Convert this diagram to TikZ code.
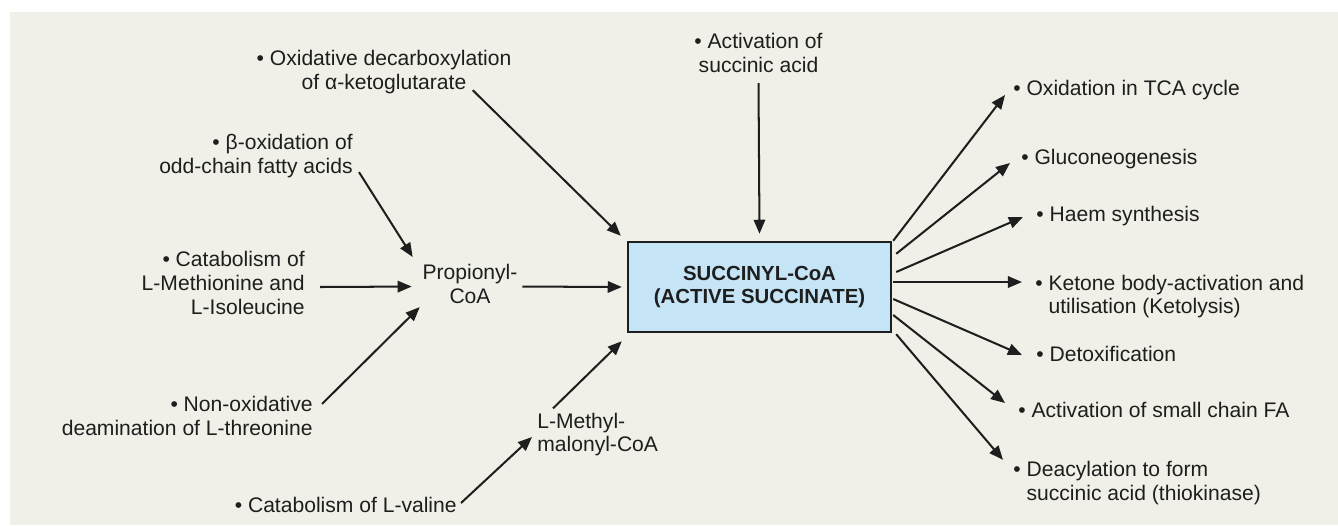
\documentclass[tikz,border=0pt]{standalone}
\usepackage{fontspec}
\setmainfont{Liberation Sans}
\usepackage{tikz}
\usetikzlibrary{arrows.meta, positioning, calc}
\definecolor{paper}{RGB}{240,240,232}
\definecolor{hubfill}{RGB}{197,229,247}
\definecolor{ink}{RGB}{30,30,30}

\begin{document}
\begin{tikzpicture}[x=0.02cm, y=-0.02cm,
    txt/.style={inner sep=0pt, text=ink, font=\fontsize{12}{13.6}\selectfont},
    hub/.style={rectangle, draw=ink, line width=1.4pt, fill=hubfill, minimum width=5.26cm, minimum height=1.8cm, align=center, text=ink, font=\fontsize{11.6}{12.6}\selectfont\bfseries},
    link/.style={-{Triangle[length=8pt, width=6.5pt]}, line width=1.15pt, draw=ink}
]
    % Frame
    \useasboundingbox (0,0) rectangle (1338,525);
    \fill[white] (0,0) rectangle (1338,525);
    \fill[paper] (10,12) rectangle (1338,525);

    % Central box
    \node[hub] (succ) at (759.5,287) {SUCCINYL-CoA\\(ACTIVE SUCCINATE)};

    % Sources
    \node[txt, align=center] (akg) at (384,72) {• Oxidative decarboxylation\\of α-ketoglutarate};
    \node[txt, align=right, anchor=east] (betaox) at (353,156) {• β-oxidation of\\odd-chain fatty acids};
    \node[txt, align=right, anchor=east] (metile) at (305,283) {• Catabolism of\\L-Methionine and\\L-Isoleucine};
    \node[txt, align=right, anchor=east] (thr) at (313,416) {• Non-oxidative\\deamination of L-threonine};
    \node[txt, anchor=east] (val) at (457,505) {• Catabolism of L-valine};
    \node[txt, align=center] (succacid) at (758.5,53) {• Activation of\\succinic acid};

    % Intermediates
    \node[txt, align=center, anchor=north] (prop) at (470,264) {Propionyl-\\CoA};
    \node[txt, align=left, anchor=west] (mmcoa) at (537,434.5) {L-Methyl-\\malonyl-CoA};

    % Fates
    \node[txt, anchor=west] (tca) at (1013,90) {• Oxidation in TCA cycle};
    \node[txt, anchor=west] (gluco) at (1021,159) {• Gluconeogenesis};
    \node[txt, anchor=west] (haem) at (1036,216) {• Haem synthesis};
    \node[txt, align=left, anchor=west] (keto) at (1035,296.5) {• Ketone body-activation and\\\hphantom{• }utilisation (Ketolysis)};
    \node[txt, anchor=west] (detox) at (1036,354) {• Detoxification};
    \node[txt, anchor=west] (smallfa) at (1018,410) {• Activation of small chain FA};
    \node[txt, align=left, anchor=west] (deacyl) at (1013,483) {• Deacylation to form\\\hphantom{• }succinic acid (thiokinase)};

    % Inputs
    \draw[link] ($(akg.south east)+(-39,-4)$) -- ($(succ.north west)+(-6,-5)$);
    \draw[link] ($(betaox.south east)+(6,-6)$) -- ($(prop.north west)+(-9.5,-7)$);
    \draw[link] ($(metile.east)+(15,4)$) -- ($(prop.west)+(-10.5,2.5)$);
    \draw[link] ($(thr.north east)+(9,8)$) -- ($(prop.south west)+(-2.5,3)$);
    \draw[link] ($(prop.east)+(4.5,2.5)$) -- ($(succ.west)+(-5,0)$);
    \draw[link] ($(val.east)+(4,-2)$) -- ($(mmcoa.west)+(-5,2.5)$);
    \draw[link] ($(mmcoa.north west)+(16,-4)$) -- ($(succ.south west)+(-5,8)$);
    \draw[link] ($(succacid.south)+(0,10)$) -- ($(succ.north)+(0,-7)$);

    % Outputs
    \draw[link] ($(succ.north east)+(1,0)$) -- ($(tca.west)+(-8,5)$);
    \draw[link] ($(succ.north east)+(4,13)$) -- ($(gluco.west)+(-11,4)$);
    \draw[link] ($(succ.east)+(4,-15)$) -- ($(haem.west)+(-13,1)$);
    \draw[link] ($(succ.east)+(1,-5)$) -- ($(keto.west)+(-13,-14.5)$);
    \draw[link] ($(succ.east)+(1,12)$) -- ($(detox.west)+(-14,1)$);
    \draw[link] ($(succ.east)+(1,28)$) -- ($(smallfa.west)+(-13,-7)$);
    \draw[link] ($(succ.south east)+(4,1)$) -- ($(deacyl.north west)+(-10,-1)$);
\end{tikzpicture}
\end{document}
